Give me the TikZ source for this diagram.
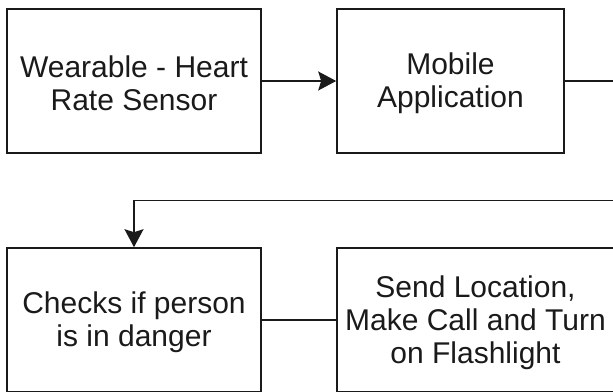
\documentclass[tikz,border=0pt]{standalone}
\usepackage{fontspec}
\setmainfont{Liberation Sans}
\usetikzlibrary{arrows.meta}
\definecolor{ink}{HTML}{1A1A1A}
\begin{document}
\begin{tikzpicture}[x=1pt,y=-1pt,
  box/.style={draw=ink, line width=1.6pt, minimum height=144pt, inner sep=0pt},
  caption/.style={align=center, text=ink, inner sep=0pt, yshift=-2.5pt,
    font=\fontsize{30}{33}\selectfont},
  link/.style={draw=ink, line width=1.6pt},
  flow/.style={link, -{Stealth[length=18pt, width=19pt, inset=3pt, fill=ink]}}]
  \useasboundingbox (0,0) rectangle (613,391);
  \clip (0,0) rectangle (613,391);

  % process boxes, captions set slightly below centre
  \node[box, minimum width=253.5pt, label={[caption]center:Wearable - Heart\\Rate Sensor}]
    (sensor) at (134,81) {};
  \node[box, minimum width=227pt, label={[caption]center:Mobile\\Application}]
    (app) at (450.5,81) {};
  \node[box, minimum width=253.5pt, label={[caption]center:Checks if person\\is in danger}]
    (check) at (134,320) {};
  \node[box, minimum width=277pt, label={[caption]center:Send Location,\\Make Call and Turn\\on Flashlight}]
    (alert) at (475.5,320) {};

  % connectors
  \draw[flow] (sensor.east) -- (app.west);
  \coordinate (turnA) at (640,81);
  \coordinate (turnB) at (640,200.5);
  \draw[flow] (app.east) -- (turnA) -- (turnB) -| (check.north);
  \draw[link] (check.east) -- (alert.west);
\end{tikzpicture}
\end{document}
